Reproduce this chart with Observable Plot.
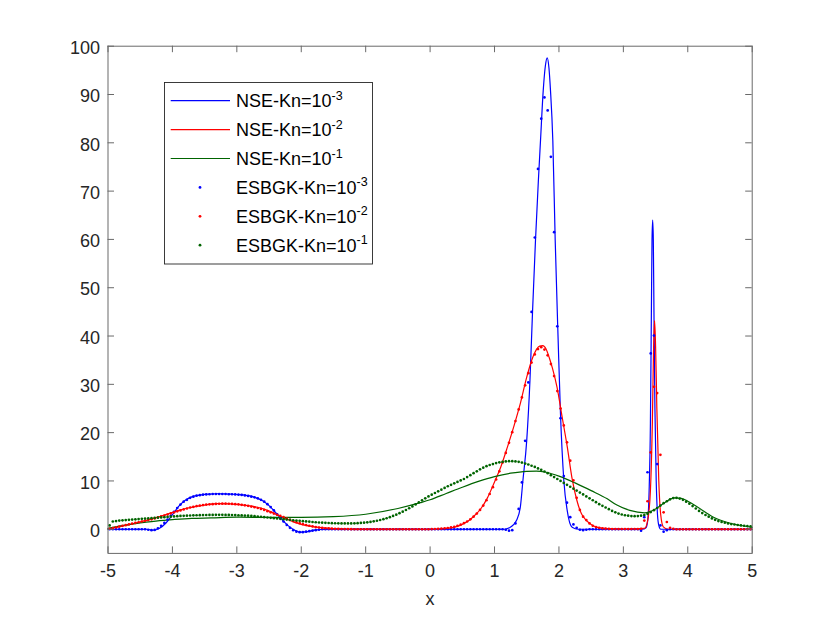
<!DOCTYPE html>
<html>
<head>
<meta charset="utf-8">
<script src="https://cdn.jsdelivr.net/npm/d3@7"></script>
<script src="https://cdn.jsdelivr.net/npm/@observablehq/plot@0.6"></script>
<style>
  html, body { margin: 0; padding: 0; background: #fff; }
  #chart { width: 830px; height: 623px; }
</style>
</head>
<body>
<div id="chart"></div>
<script>
// ---------- tick labels ----------
const xTicks = [-5, -4, -3, -2, -1, 0, 1, 2, 3, 4, 5];
const yTicks = [0, 10, 20, 30, 40, 50, 60, 70, 80, 90, 100];
const xLabel = "x";

// ---------- legend ----------
const legendBase = ["NSE-Kn=10", "NSE-Kn=10", "NSE-Kn=10", "ESBGK-Kn=10", "ESBGK-Kn=10", "ESBGK-Kn=10"];
const legendExp = ["-3", "-2", "-1", "-3", "-2", "-1"];
const legendKind = ["line", "line", "line", "dot", "dot", "dot"];
const seriesColors = ["#0000ff", "#ff0000", "#006400"];

// ---------- NSE solutions (x, value) ----------
const nse3 = [[-5,0],[-4.4,0],[-4.3,-0.2],[-4.2,0.2],[-4.1,1.3],[-4.0,3.0],[-3.9,4.8],[-3.8,6.0],[-3.7,6.7],[-3.6,7.0],[-3.5,7.2],[-3.3,7.35],[-3.1,7.3],[-2.9,7.1],[-2.8,6.9],[-2.7,6.5],[-2.6,5.9],[-2.5,4.9],[-2.4,3.5],[-2.3,2.0],[-2.2,0.7],[-2.1,-0.2],[-2.0,-0.6],[-1.9,-0.5],[-1.8,-0.2],[-1.6,0],[1.15,0],[1.23,0.3],[1.3,1.0],[1.34,1.8],[1.4,4.5],[1.44,10],[1.5,18.4],[1.55,30.8],[1.59,45],[1.636,59.8],[1.68,72],[1.714,80.5],[1.756,90.8],[1.79,96],[1.818,97.6],[1.845,95.5],[1.869,90.8],[1.905,80.5],[1.942,59.8],[1.988,39],[2.024,23.9],[2.076,10.1],[2.128,3.9],[2.205,0.4],[2.3,0],[3.3,0],[3.35,0.3],[3.38,2],[3.40,8],[3.42,22],[3.435,45],[3.445,60],[3.455,64],[3.465,60],[3.475,45],[3.49,25],[3.51,10],[3.53,3],[3.55,0.8],[3.58,0],[5,0]];
const nse2 = [[-5,0.05],[-4.8,0.6],[-4.54,1.4],[-4.28,2.3],[-4.02,3.4],[-3.76,4.4],[-3.5,5.0],[-3.3,5.3],[-3.1,5.25],[-2.9,5.0],[-2.7,4.6],[-2.58,4.2],[-2.45,3.5],[-2.3,2.5],[-2.17,1.8],[-2.0,1.0],[-1.8,0.5],[-1.5,0.15],[-1.0,0.02],[0,0],[0.17,0.1],[0.37,0.4],[0.58,1.6],[0.68,2.7],[0.79,4.3],[0.89,6.5],[1.0,9.8],[1.1,13],[1.2,17],[1.3,21.3],[1.4,26],[1.5,31.5],[1.6,35.8],[1.7,37.9],[1.75,38],[1.8,37.3],[1.85,35.5],[1.9,33.3],[1.97,29.4],[2.05,23.2],[2.13,17],[2.2,10.8],[2.28,5.9],[2.35,3.2],[2.4,2.2],[2.5,1.0],[2.6,0.4],[2.75,0.15],[3.0,0.05],[3.33,0.2],[3.38,2],[3.42,8],[3.45,22],[3.47,38],[3.485,43.2],[3.50,38],[3.52,25],[3.55,10],[3.58,3],[3.62,0.5],[3.7,0],[5,0]];
const nse1 = [[-5,0.2],[-4.7,0.9],[-4.5,1.3],[-4.2,1.8],[-4.0,2.0],[-3.7,2.25],[-3.4,2.35],[-3.0,2.5],[-2.5,2.45],[-2.0,2.45],[-1.5,2.6],[-1.0,3.1],[-0.5,4.3],[-0.15,5.5],[0,6.1],[0.25,7.4],[0.5,8.7],[0.75,9.9],[1.0,10.9],[1.25,11.6],[1.5,12.0],[1.65,12.05],[1.8,11.8],[2.0,11.0],[2.25,9.6],[2.5,8.0],[2.75,6.3],[2.9,5.0],[3.1,3.9],[3.33,3.4],[3.5,4.2],[3.63,5.4],[3.79,6.5],[3.9,6.4],[4.0,5.8],[4.15,4.6],[4.4,2.5],[4.66,1.25],[5.0,0.4]];

// ---------- ESBGK solutions on 200 cell centres ----------
const esbgk3 = [
0,0,0,0,0,0,0,0,0,0,0,0,
-0.1,-0.2,-0.15,0.2,0.7,1.3,2.0,2.8,3.6,4.4,5.1,5.7,6.1,6.5,6.75,6.95,7.05,7.15,
7.2,7.25,7.3,7.3,7.3,7.3,7.3,7.25,7.25,7.2,7.15,7.1,7.0,6.9,6.75,6.6,6.4,6.1,5.7,5.2,
4.6,3.9,3.1,2.3,1.6,0.9,0.3,-0.2,-0.5,-0.6,-0.6,-0.5,-0.4,-0.3,-0.2,-0.1,
0,0,0,0,0,0,0,0,0,0,0,0,0,0,0,0,0,0,0,0,0,0,0,0,0,0,0,0,0,0,0,0,0,0,0,0,0,0,0,0,0,0,0,0,0,0,0,0,0,0,0,0,0,0,0,0,0,
-0.1,-0.3,-0.2,1.2,4.2,9.7,18.3,30.4,45,60.4,74.6,85,89.4,86.7,77.1,61.5,42,
23,11,5.5,2.5,1.0,0.3,-0.1,-0.2,-0.1,
0,0,0,0,0,0,0,0,0,0,0,0,0,0,0,0,
-0.3,2.5,11.8,36.4,40.1,13.5,0.8,-0.5,-0.2,
0,0,0,0,0,0,0,0,0,0,0,0,0,0,0,0,0,0,0,0,0,0,0,0,0,0];
const esbgk2 = [
0.1,0.25,0.4,0.55,0.7,0.85,1.0,1.15,1.3,1.45,1.6,1.75,1.9,2.05,2.25,2.45,2.65,2.85,3.05,3.3,
3.5,3.7,3.9,4.1,4.3,4.5,4.65,4.8,4.9,5.0,5.1,5.15,5.2,5.25,5.28,5.3,5.3,5.28,5.25,5.2,
5.15,5.05,4.95,4.85,4.7,4.55,4.4,4.2,4.0,3.75,3.5,3.25,3.0,2.75,2.5,2.2,1.95,1.7,1.45,1.25,
1.05,0.88,0.72,0.58,0.46,0.36,0.28,0.21,0.16,0.12,0.09,0.07,0.05,0.04,0.03,0.02,
0,0,0,0,0,0,0,0,0,0,0,0,0,0,0,0,0,0,0,0,0,0,0,0,
0.03,0.05,0.08,0.12,0.18,0.26,0.37,0.5,0.7,0.95,1.25,1.6,2.05,2.6,3.25,4.0,4.9,6.0,7.3,8.7,
10.3,12.0,13.8,15.8,17.9,20.1,22.4,24.8,27.3,29.8,32.3,34.5,36.2,37.3,37.7,37.2,36.0,34.2,31.7,28.6,
25.0,21.5,18.0,14.2,10.1,6.5,4.0,2.6,1.9,1.2,0.7,0.45,0.3,0.2,0.12,0.08,
0.05,0.05,0.05,0.05,0.05,0.05,0.05,0.05,0.05,
0.1,1.8,5.8,15.9,29.5,28.2,15.4,3.5,1.5,0.3,0.1,
0,0,0,0,0,0,0,0,0,0,0,0,0,0,0,0,0,0,0,0,0,0,0,0];
const esbgk1 = [
0.8,1.6,1.7,1.8,1.85,1.9,1.95,2.0,2.05,2.1,2.15,2.2,2.25,2.3,2.35,2.4,2.45,2.5,2.55,2.6,
2.65,2.7,2.75,2.78,2.82,2.85,2.88,2.9,2.92,2.94,2.95,2.96,2.97,2.98,2.98,2.98,2.97,2.96,2.95,2.93,
2.9,2.87,2.83,2.8,2.75,2.7,2.64,2.57,2.5,2.43,2.36,2.29,2.22,2.15,2.08,2.0,1.93,1.86,1.8,1.74,
1.68,1.62,1.56,1.5,1.45,1.4,1.36,1.32,1.29,1.26,1.24,1.22,1.21,1.2,1.2,1.21,1.23,1.26,1.3,1.36,
1.43,1.52,1.63,1.76,1.91,2.08,2.28,2.5,2.75,3.02,3.32,3.64,3.98,4.35,4.73,5.13,5.55,5.98,6.4,6.8,
7.15,7.5,7.85,8.2,8.55,8.9,9.2,9.5,9.8,10.1,10.4,10.8,11.2,11.6,12.0,12.4,12.75,13.05,13.3,13.5,
13.7,13.85,13.95,14.05,14.1,14.1,14.05,13.95,13.8,13.6,13.4,13.15,12.9,12.6,12.3,11.95,11.6,11.2,10.8,10.4,
10.0,9.6,9.2,8.8,8.4,8.0,7.6,7.2,6.8,6.4,6.0,5.6,5.2,4.85,4.5,4.15,3.8,3.5,3.25,3.05,
2.9,2.8,2.72,2.7,2.72,2.8,2.95,3.2,3.55,3.95,4.4,4.9,5.4,5.8,6.2,6.45,6.5,6.35,6.1,5.7,
5.3,4.8,4.3,3.8,3.35,2.95,2.6,2.25,1.95,1.7,1.5,1.35,1.2,1.08,0.98,0.88,0.8,0.72,0.65,0.58];

// cell centres of the uniform grid on [-5, 5]
const cellX = esbgk1.map((_, i) => -4.975 + 0.05 * i);

const W = 830, H = 623;
const mL = 107.5, mR = 78.3, mT = 45.7, mB = 70.1;
const innerW = W - mL - mR, innerH = H - mT - mB;
const tickLen = 6.5;
const axisColor = "#262626";
const font = "'Liberation Sans', Arial, Helvetica, sans-serif";

const toRows = (arr) => arr.map((v, i) => ({x: cellX[i], y: v}));

const chart = Plot.plot({
  width: W, height: H,
  marginLeft: mL, marginRight: mR, marginTop: mT, marginBottom: mB,
  style: {fontFamily: font, background: "white", overflow: "visible"},
  x: {domain: [-5, 5], axis: null},
  y: {domain: [-5, 100], axis: null},
  marks: [
    // curves
    Plot.line(nse3, {x: d => d[0], y: d => d[1], stroke: seriesColors[0], strokeWidth: 1.2, curve: "monotone-x"}),
    Plot.line(nse2, {x: d => d[0], y: d => d[1], stroke: seriesColors[1], strokeWidth: 1.2, curve: "monotone-x"}),
    Plot.line(nse1, {x: d => d[0], y: d => d[1], stroke: seriesColors[2], strokeWidth: 1.2, curve: "monotone-x"}),
    Plot.dot(toRows(esbgk3), {x: "x", y: "y", r: 1.35, fill: seriesColors[0], stroke: null}),
    Plot.dot(toRows(esbgk2), {x: "x", y: "y", r: 1.35, fill: seriesColors[1], stroke: null}),
    Plot.dot(toRows(esbgk1), {x: "x", y: "y", r: 1.35, fill: seriesColors[2], stroke: null}),
    // box
    Plot.frame({stroke: "#6a6a6a", strokeWidth: 1}),
    // inward tick marks on all four sides
    Plot.tickX(xTicks, {x: d => d, insetTop: innerH - tickLen, stroke: "#6a6a6a"}),
    Plot.tickX(xTicks, {x: d => d, insetBottom: innerH - tickLen, stroke: "#6a6a6a"}),
    Plot.tickY(yTicks, {y: d => d, insetRight: innerW - tickLen, stroke: "#6a6a6a"}),
    Plot.tickY(yTicks, {y: d => d, insetLeft: innerW - tickLen, stroke: "#6a6a6a"}),
    // tick labels
    Plot.text(xTicks, {x: d => d, frameAnchor: "bottom", dy: 24, text: d => String(d), fontSize: 18, fill: axisColor}),
    Plot.text(yTicks, {y: d => d, frameAnchor: "left", dx: -8, dy: 2, textAnchor: "end", text: d => String(d), fontSize: 18, fill: axisColor}),
    Plot.text([xLabel], {frameAnchor: "bottom", dy: 52, text: d => d, fontSize: 18, fill: axisColor})
  ]
});

// legend box
const svg = d3.select(chart);
const lg = svg.append("g").attr("font-family", font).attr("font-size", 18).attr("text-anchor", "start");
lg.append("rect")
  .attr("x", 164.5).attr("y", 82.5).attr("width", 208).attr("height", 181.5)
  .attr("fill", "white").attr("stroke", "#262626").attr("stroke-width", 0.9);
legendBase.forEach((label, k) => {
  const yRow = 100.7 + 28.9 * k;
  const color = seriesColors[k % 3];
  if (legendKind[k] === "line") {
    lg.append("line").attr("x1", 170.7).attr("x2", 230).attr("y1", yRow).attr("y2", yRow)
      .attr("stroke", color).attr("stroke-width", 1.2);
  } else {
    lg.append("circle").attr("cx", 200).attr("cy", yRow).attr("r", 1.4).attr("fill", color);
  }
  const t = lg.append("text").attr("x", 236).attr("y", yRow + 6.5).attr("fill", "#000").attr("text-anchor", "start");
  t.append("tspan").text(label);
  t.append("tspan").attr("font-size", 12.5).attr("dy", -7.5).text(legendExp[k]);
});

document.getElementById("chart").appendChild(chart);
</script>
</body>
</html>
